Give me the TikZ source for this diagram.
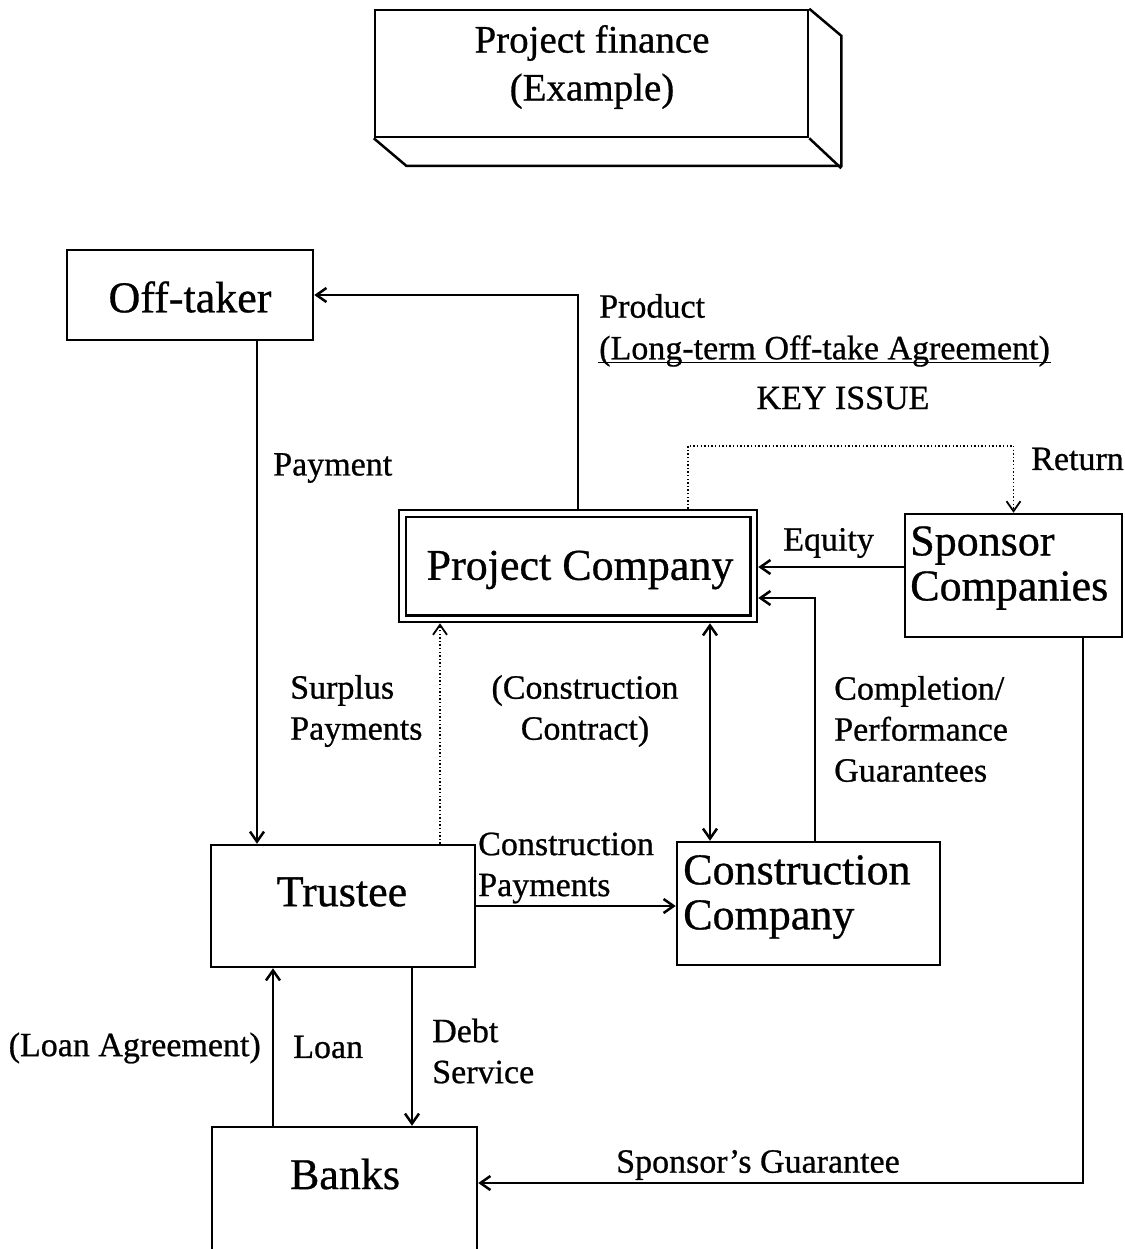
\documentclass[tikz,border=0pt]{standalone}
\usepackage{fontspec}
\setmainfont[FakeBold=0.7]{Liberation Serif}
\usetikzlibrary{arrows.meta}
\begin{document}
\begin{tikzpicture}[x=0.5pt,y=-0.5pt,
  line width=1.25pt,
  box/.style={draw, rectangle, inner sep=0pt},
  big/.style={inner sep=0pt, font=\fontsize{22}{22.5}\selectfont},
  small/.style={inner sep=0pt, font=\fontsize{17}{20.5}\selectfont},
  arr/.style={-{Straight Barb[length=5pt,width=7pt]}},
  dblarr/.style={{Straight Barb[length=5pt,width=7pt]}-{Straight Barb[length=5pt,width=7pt]}},
  dotarr/.style={arr, line width=0.9pt, dash pattern=on 0.7pt off 1.1pt}]
\clip (0,0) rectangle (1125,1249);

% title block drawn as a box in perspective
\node[box, minimum width=216.5pt, minimum height=63.5pt] (title) at (591.5,73.5) {};
\draw (title.north east) -- ++(32,27) -- ++(0,130) -- ++(-435,0) -- (title.south west);
\draw (title.south east) -- ++(32,30);
\node[inner sep=0pt, align=center, font=\fontsize{19.5}{24}\selectfont] (titletext) at (592,67) {Project finance\\(Example)};

% boxes
\node[box, minimum width=123pt, minimum height=45pt] (off) at (190,295) {};
\node[box, minimum width=179pt, minimum height=56pt] (pc) at (578,566) {};
\draw ([shift={(8,8)}]pc.north west) rectangle ([shift={(-8,-8)}]pc.south east);
\node[box, minimum width=108.5pt, minimum height=61.5pt] (sp) at (1013.5,575.5) {};
\node[box, minimum width=132pt, minimum height=61pt] (tr) at (343,906) {};
\node[box, minimum width=131.5pt, minimum height=61.5pt] (cc) at (808.5,903.5) {};
\node[box, minimum width=132.5pt, minimum height=70pt] (ba) at (344.5,1197) {};

% box texts
\node[big] (offt) at (190,297) {Off-taker};
\node[big] (pct) at (580,570) {Project Company};
\node[big, align=left, anchor=west] (spt) at (909,568) {Sponsor\\Companies};
\node[big] (trt) at (342,892) {Trustee};
\node[big, align=left, anchor=west] (cct) at (682,897) {Construction\\Company};
\node[big] (bat) at (345,1174) {Banks};

% connectors
\draw[arr] (pc.north) |- (off.east);
\draw[arr] ([xshift=33.5pt]off.south) -- ([xshift=33.5pt]off.south |- tr.north);
\draw[dotarr] ([xshift=55pt]pc.north) -- ++(0,-63) -| (sp.north);
\draw[arr] ([yshift=4.25pt]sp.west) -- ([yshift=4.25pt]sp.west -| pc.east);
\draw[arr] ([xshift=3.25pt]cc.north) |- ([yshift=-16pt]pc.east);
\draw[dblarr] ([xshift=66pt]pc.south) -- ([xshift=66pt]pc.south |- cc.north);
\draw[dotarr] ([xshift=48.5pt]tr.north) -- ([xshift=48.5pt]tr.north |- pc.south);
\draw[arr] (tr.east) -- (tr.east -| cc.west);
\draw[arr] ([xshift=-35.75pt]ba.north) -- ([xshift=-35.75pt]ba.north |- tr.south);
\draw[arr] ([xshift=34.5pt]tr.south) -- ([xshift=34.5pt]tr.south |- ba.north);
\draw[arr] ([xshift=34.75pt]sp.south) |- ([yshift=7pt]ba.east);

% connector labels
\node[small, anchor=west] (lprod) at (598,306) {Product};
\node[small, anchor=west] (lagr) at (598,351) {(Long-term Off-take Agreement)};
\draw[line width=0.8pt] ([yshift=-1.6pt]lagr.base west) -- ([yshift=-1.6pt]lagr.base east);
\node[small] (lkey) at (843,398) {KEY ISSUE};
\node[small, anchor=west] (lret) at (1030,459) {Return};
\node[small, anchor=west] (lpay) at (272,468) {Payment};
\node[small, anchor=west] (lequ) at (782,543) {Equity};
\node[small, anchor=west, align=left] (lsur) at (289,711) {Surplus\\Payments};
\node[small, align=center] (lcon) at (585,711) {(Construction\\Contract)};
\node[small, anchor=west, align=left] (lcomp) at (833,729) {Completion/\\Performance\\Guarantees};
\node[small, anchor=west, align=left] (lcpay) at (477,868) {Construction\\Payments};
\node[small, anchor=east] (lla) at (262,1048) {(Loan Agreement)};
\node[small, anchor=west] (lloan) at (292,1047) {Loan};
\node[small, anchor=west, align=left] (ldebt) at (431,1051) {Debt\\Service};
\node[small] (lsg) at (758,1165) {Sponsor’s Guarantee};
\end{tikzpicture}
\end{document}
